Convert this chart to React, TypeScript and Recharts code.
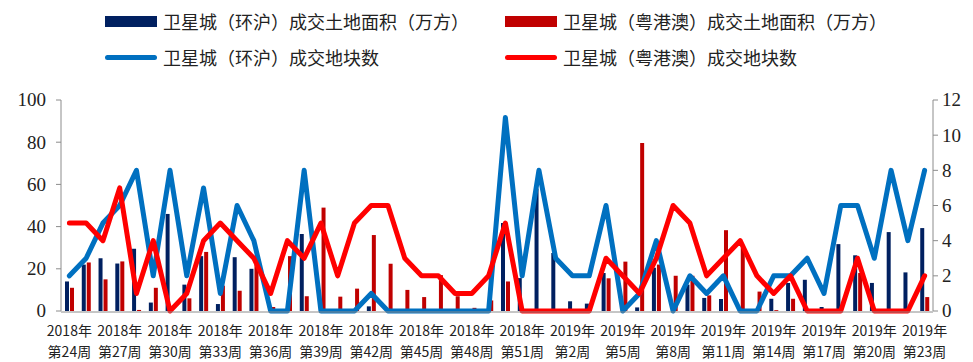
import { ComposedChart, Bar, Line, XAxis, YAxis } from "recharts";

// 2018年第24周 ... 2019年第23周
const weeks = [
  "2018年 第24周", "2018年 第25周", "2018年 第26周", "2018年 第27周", "2018年 第28周",
  "2018年 第29周", "2018年 第30周", "2018年 第31周", "2018年 第32周", "2018年 第33周",
  "2018年 第34周", "2018年 第35周", "2018年 第36周", "2018年 第37周", "2018年 第38周",
  "2018年 第39周", "2018年 第40周", "2018年 第41周", "2018年 第42周", "2018年 第43周",
  "2018年 第44周", "2018年 第45周", "2018年 第46周", "2018年 第47周", "2018年 第48周",
  "2018年 第49周", "2018年 第50周", "2018年 第51周", "2018年 第52周", "2019年 第1周",
  "2019年 第2周", "2019年 第3周", "2019年 第4周", "2019年 第5周", "2019年 第6周",
  "2019年 第7周", "2019年 第8周", "2019年 第9周", "2019年 第10周", "2019年 第11周",
  "2019年 第12周", "2019年 第13周", "2019年 第14周", "2019年 第15周", "2019年 第16周",
  "2019年 第17周", "2019年 第18周", "2019年 第19周", "2019年 第20周", "2019年 第21周",
  "2019年 第22周", "2019年 第23周",
];

// 成交土地面积（万方）
const huArea = [
  14, 22, 25, 22.5, 29.5, 4, 46, 12.5, 26, 3.3,
  25.5, 20, 0, 0, 36.5, 0, 0, 0, 2.2, 0,
  0, 0, 0, 0, 0, 0, 41.7, 15.6, 58, 27.5,
  4.6, 3.5, 18, 0, 1.7, 20.5, 0, 12.5, 6.2, 5.7,
  0, 0, 5.8, 13.3, 14.8, 1.9, 31.7, 26.4, 13.3, 37.4,
  18.3, 39.3,
];
const yueArea = [
  11, 23, 15, 23.5, 0.5, 11, 0, 6, 28, 12,
  9.6, 22, 1.9, 26, 7, 49, 6.8, 10.6, 36, 22.4,
  10, 6.6, 17, 7, 1.5, 5, 14, 0, 0, 0,
  0, 0, 15.5, 23.4, 79.6, 22, 16.7, 16.7, 7.4, 38.3,
  30, 9.2, 0.4, 5.8, 0, 0, 0, 18, 0, 0,
  0, 6.6,
];

// 成交地块数
const huCount = [
  2, 3, 5, 6, 8, 2, 8, 2, 7, 1,
  6, 4, 0, 0, 8, 0, 0, 0, 1, 0,
  0, 0, 0, 0, 0, 0, 11, 2, 8, 3,
  2, 2, 6, 0, 1, 4, 0, 2, 1, 2,
  0, 0, 2, 2, 3, 1, 6, 6, 3, 8,
  4, 8,
];
const yueCount = [
  5, 5, 4, 7, 1, 4, 0, 1, 4, 5,
  4, 3, 1, 4, 3, 5, 2, 5, 6, 6,
  3, 2, 2, 1, 1, 2, 5, 0, 0, 0,
  0, 0, 3, 2, 1, 3, 6, 5, 2, 3,
  4, 2, 1, 2, 0, 0, 0, 3, 0, 0,
  0, 2,
];

const leftTicks = [0, 20, 40, 60, 80, 100];
const rightTicks = [0, 2, 4, 6, 8, 10, 12];

const chartData = weeks.map((week, i) => ({
  idx: i,
  week,
  huArea: huArea[i],
  yueArea: yueArea[i],
  huCount: huCount[i],
  yueCount: yueCount[i],
}));

// tick marks sit on category boundaries, not centres
const edgeTicks = weeks.map((_, i) => i).concat(weeks.length);

const NAVY = "#002060";
const DARK_RED = "#C00000";
const BLUE = "#0070C0";
const RED = "#FF0000";
const AXIS = "#8c8c8c";
const cjk = '"Noto Sans CJK SC", "Noto Sans", sans-serif';
const serif = "'Liberation Serif', 'Times New Roman', 'DejaVu Serif', serif";

const legendItems = [
  { label: "卫星城（环沪）成交土地面积（万方）", color: NAVY, kind: "bar" },
  { label: "卫星城（粤港澳）成交土地面积（万方）", color: DARK_RED, kind: "bar" },
  { label: "卫星城（环沪）成交地块数", color: BLUE, kind: "line" },
  { label: "卫星城（粤港澳）成交地块数", color: RED, kind: "line" },
];

const WeekTick = (props: any) => {
  const { x, y, payload } = props;
  const [year, week] = String(payload.value).split(" ");
  return (
    <text textAnchor="middle" fontFamily={cjk} fontSize={14} fill="#222">
      <tspan x={x} y={y + 17}>{year}</tspan>
      <tspan x={x} y={y + 38}>{week}</tspan>
    </text>
  );
};

const NumTick = (props: any) => {
  const { x, y, payload, textAnchor } = props;
  return (
    <text
      x={x}
      y={y}
      dy="0.34em"
      textAnchor={textAnchor}
      fontSize={19}
      fill="#222"
      style={{ fontFamily: serif }}
    >
      {payload.value}
    </text>
  );
};

const Legend = () => (
  <div
    style={{
      position: "absolute",
      left: 105,
      top: 8,
      display: "grid",
      gridTemplateColumns: "400px 400px",
      rowGap: 10,
      fontFamily: cjk,
      fontSize: 18,
      color: "#222",
    }}
  >
    {legendItems.map((item) => (
      <div key={item.label} style={{ display: "flex", alignItems: "center", height: 26 }}>
        <span
          style={{
            display: "inline-block",
            width: 52,
            height: item.kind === "bar" ? 11 : 5,
            borderRadius: item.kind === "bar" ? 0 : 3,
            background: item.color,
            marginRight: 6,
          }}
        />
        {item.label}
      </div>
    ))}
  </div>
);

export default function App() {
  return (
    <div style={{ position: "absolute", left: 0, top: 0, width: 973, height: 362, background: "#fff" }}>
      <Legend />
      <ComposedChart
        width={973}
        height={362}
        data={chartData}
        margin={{ top: 100, right: 0, bottom: 49, left: 0 }}
        barSize={4}
        barGap={1}
      >
        <XAxis
          xAxisId="edge"
          type="number"
          dataKey="idx"
          domain={[0, weeks.length]}
          ticks={edgeTicks}
          tick={false}
          tickSize={5}
          height={1}
          stroke={AXIS}
          allowDataOverflow
        />
        <XAxis
          xAxisId="cat"
          dataKey="week"
          interval={2}
          tick={<WeekTick />}
          tickLine={false}
          axisLine={false}
          height={1}
        />
        <YAxis
          yAxisId="left"
          domain={[0, 100]}
          ticks={leftTicks}
          width={61}
          tickSize={5}
          stroke={AXIS}
          tick={<NumTick />}
          tickMargin={10}
        />
        <YAxis
          yAxisId="right"
          orientation="right"
          domain={[0, 12]}
          ticks={rightTicks}
          width={40}
          tickSize={5}
          stroke={AXIS}
          tick={<NumTick />}
          tickMargin={4}
        />
        <Bar xAxisId="cat" yAxisId="left" dataKey="huArea" fill={NAVY} isAnimationActive={false} />
        <Bar xAxisId="cat" yAxisId="left" dataKey="yueArea" fill={DARK_RED} isAnimationActive={false} />
        <Line
          xAxisId="cat"
          yAxisId="right"
          type="linear"
          dataKey="huCount"
          stroke={BLUE}
          strokeWidth={5}
          dot={false}
          strokeLinejoin="round"
          strokeLinecap="round"
          isAnimationActive={false}
        />
        <Line
          xAxisId="cat"
          yAxisId="right"
          type="linear"
          dataKey="yueCount"
          stroke={RED}
          strokeWidth={5}
          dot={false}
          strokeLinejoin="round"
          strokeLinecap="round"
          isAnimationActive={false}
        />
      </ComposedChart>
    </div>
  );
}
